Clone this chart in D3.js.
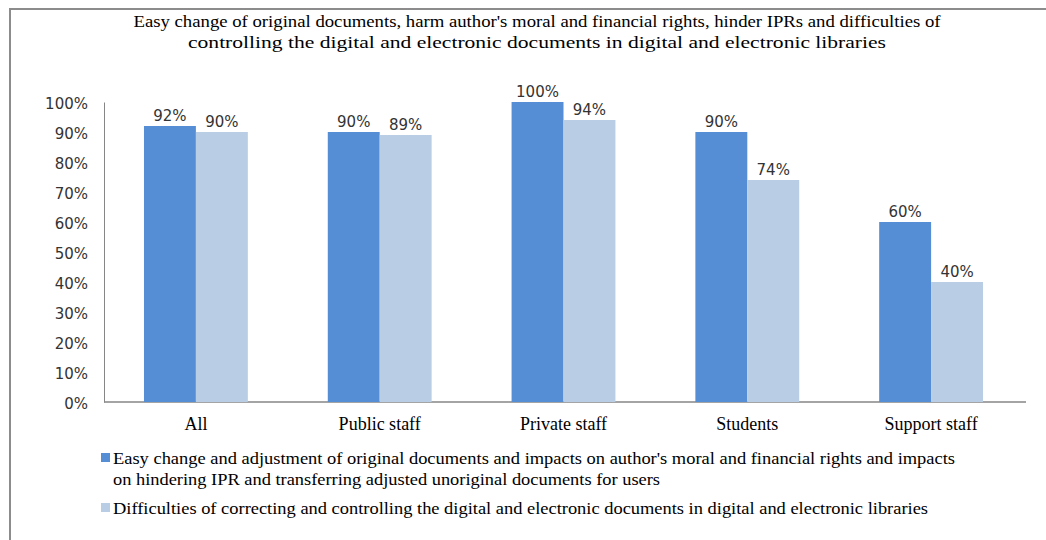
<!DOCTYPE html>
<html>
<head>
<meta charset="utf-8">
<script src="https://cdn.jsdelivr.net/npm/d3@7"></script>
<style>
  body { margin: 0; background: #fff; }
  svg { display: block; }
</style>
</head>
<body>
<script>
// Chart data
var categories = ["All", "Public staff", "Private staff", "Students", "Support staff"];
var seriesNames = [
  "Easy change and adjustment of original documents and impacts on author's moral and financial rights and impacts",
  "Difficulties of correcting and controlling the digital and electronic documents in digital and electronic libraries"
];
var legendLine2 = "on hindering IPR and transferring adjusted unoriginal documents for users";
var easyChange = [92, 90, 100, 90, 60];
var difficulties = [90, 89, 94, 74, 40];
var yTicks = [0, 10, 20, 30, 40, 50, 60, 70, 80, 90, 100];
var titleLines = [
  "Easy change of original documents, harm author's moral and financial rights, hinder IPRs and difficulties of",
  "controlling the digital and electronic documents in digital and electronic libraries"
];
var colors = ["#558ED5", "#B9CDE5"];

var width = 1046, height = 540;
var svg = d3.select("body").append("svg").attr("width", width).attr("height", height);

// outer frame (right and bottom edges run off the picture)
svg.append("path")
  .attr("d", "M10,560 L10,9 L1060,9")
  .style("fill", "none").style("stroke", "#8c8c8c").style("stroke-width", 2);

// title
var titleWidths = [807, 698];
svg.selectAll(".title").data(titleLines).enter().append("text")
  .attr("class", "title")
  .attr("x", 537).attr("y", function(d, i) { return 27 + i * 21; })
  .attr("text-anchor", "middle")
  .attr("textLength", function(d, i) { return titleWidths[i]; })
  .attr("lengthAdjust", "spacingAndGlyphs")
  .style("font-family", "'Liberation Serif', serif").style("font-size", "16px").style("fill", "#000")
  .text(function(d) { return d; });

var x0 = d3.scaleBand().domain(categories).range([104, 1023]).paddingInner(0.435).paddingOuter(0.2175);
var x1 = d3.scaleBand().domain([0, 1]).range([0, x0.bandwidth()]);
var y = d3.scaleLinear().domain([0, 100]).range([402, 102]);

// y axis
var yAxis = d3.axisLeft(y).tickValues(yTicks).tickSize(0).tickPadding(16)
  .tickFormat(function(d) { return d + "%"; });
var gy = svg.append("g").attr("transform", "translate(104,0)").call(yAxis);
gy.select(".domain").style("stroke", "#868686");
gy.selectAll("text").style("font-family", "'DejaVu Sans', sans-serif").style("font-size", "15px").style("fill", "#333")
  .attr("dy", "0.4em");

// x axis
var xAxis = d3.axisBottom(x0).tickSize(0).tickPadding(15);
var gx = svg.append("g").attr("transform", "translate(0,402)").call(xAxis);
gx.select(".domain").attr("d", "M104,0H1026").style("stroke", "#868686").style("stroke-width", 1.5);
gx.selectAll("text").style("font-family", "'Liberation Serif', serif").style("font-size", "18px").style("fill", "#000");

// bars
var series = [easyChange, difficulties];
series.forEach(function(vals, s) {
  svg.selectAll(".bar" + s).data(vals).enter().append("rect")
    .attr("class", "bar" + s)
    .attr("x", function(d, i) { return x0(categories[i]) + x1(s); })
    .attr("y", function(d) { return y(d); })
    .attr("width", x1.bandwidth())
    .attr("height", function(d) { return y(0) - y(d); })
    .style("fill", colors[s]);

  svg.selectAll(".lab" + s).data(vals).enter().append("text")
    .attr("class", "lab" + s)
    .attr("x", function(d, i) { return x0(categories[i]) + x1(s) + x1.bandwidth() / 2; })
    .attr("y", function(d) { return y(d) - 5; })
    .attr("text-anchor", "middle")
    .style("font-family", "'DejaVu Sans', sans-serif").style("font-size", "15px").style("fill", "#333")
    .text(function(d) { return d + "%"; });
});

// legend
var legend = [
  { color: colors[0], lines: [seriesNames[0], legendLine2], widths: [842, 547], y: 464 },
  { color: colors[1], lines: [seriesNames[1]], widths: [815], y: 514 }
];
legend.forEach(function(l) {
  svg.append("rect").attr("x", 101).attr("y", l.y - 11).attr("width", 9).attr("height", 9).style("fill", l.color);
  l.lines.forEach(function(t, i) {
    svg.append("text")
      .attr("x", 113).attr("y", l.y + i * 21)
      .attr("textLength", l.widths[i]).attr("lengthAdjust", "spacingAndGlyphs")
      .style("font-family", "'Liberation Serif', serif").style("font-size", "16px").style("fill", "#000")
      .text(t);
  });
});
</script>
</body>
</html>
